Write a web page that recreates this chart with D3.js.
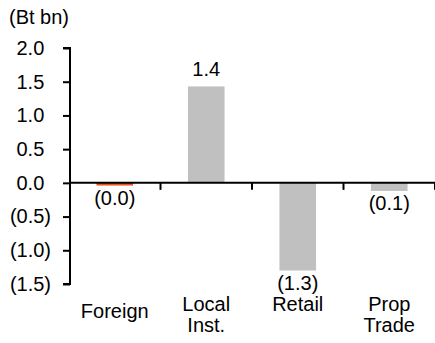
<!DOCTYPE html>
<html>
<head>
<meta charset="utf-8">
<script src="https://cdn.jsdelivr.net/npm/d3@7/dist/d3.min.js"></script>
<style>
  html, body { margin: 0; padding: 0; background: #fff; }
  svg { display: block; font-family: "Liberation Sans", Arial, sans-serif; }
</style>
</head>
<body>
<svg id="chart" width="435" height="343"></svg>
<script>
// Net buy / sell by investor type (Bt bn)
const categories = [["Foreign"], ["Local", "Inst."], ["Retail", ""], ["Prop", "Trade"]];
const values = [-0.04, 1.43, -1.30, -0.12];
const barColors = ["#e8561c", "#c0c0c0", "#c0c0c0", "#c0c0c0"];
const yTicks = [2.0, 1.5, 1.0, 0.5, 0.0, -0.5, -1.0, -1.5];
const unitLabel = "(Bt bn)";

const svg = d3.select("#chart");
const plotLeft = 70, plotRight = 435, plotTop = 48, plotBottom = 284;
const fontSize = 20;

const keys = categories.map(c => c.join(" ").trim());

const fmt = v => {
  const s = d3.format(".1f")(Math.abs(v));
  return v < 0 ? "(" + s + ")" : s;
};

const y = d3.scaleLinear().domain([-1.5, 2.0]).range([plotBottom, plotTop]);

// category slots (for ticks) and bars within them
const xSlot = d3.scaleBand().domain(keys).range([plotLeft - 1, plotRight]).padding(0);
const xBar = d3.scaleBand().domain(keys).range([plotLeft - 1, plotRight])
  .paddingInner(0.6).paddingOuter(0.3);

// bars
svg.append("g").selectAll("rect")
  .data(values)
  .join("rect")
  .attr("x", (d, i) => xBar(keys[i]))
  .attr("width", xBar.bandwidth())
  .attr("y", d => y(Math.max(0, d)))
  .attr("height", d => Math.abs(y(d) - y(0)))
  .attr("fill", (d, i) => barColors[i]);

// y axis
const yAxis = d3.axisLeft(y)
  .tickValues(yTicks)
  .tickSize(7)
  .tickPadding(12)
  .tickFormat(fmt);
const gy = svg.append("g")
  .attr("transform", `translate(${plotLeft},0)`)
  .call(yAxis);
gy.select(".domain").attr("stroke", "#000").attr("stroke-width", 2)
  .attr("d", `M-7,${y(2.0)}H0V${y(-1.5)}H-7`);
gy.selectAll(".tick line").attr("stroke", "#000").attr("stroke-width", 2);
gy.selectAll(".tick text")
  .attr("fill", "#000")
  .style("font-size", fontSize + "px")
  .style("font-family", "'Liberation Sans', Arial, sans-serif")
  // positive numbers leave room for a closing parenthesis
  .attr("dx", d => d >= 0 ? -6.7 : 0);

// x axis along zero
const xAxis = d3.axisBottom(xSlot)
  .tickSize(0)
  .tickFormat("");
const gx = svg.append("g")
  .attr("transform", `translate(0,${y(0)})`)
  .call(xAxis);
gx.select(".domain").attr("stroke", "#000").attr("stroke-width", 2)
  .attr("d", `M${plotLeft},0H${plotRight}`);
gx.selectAll(".tick").remove();
gx.selectAll("line.sep")
  .data(keys)
  .join("line")
  .attr("class", "sep")
  .attr("x1", d => xSlot(d) + xSlot.bandwidth())
  .attr("x2", d => xSlot(d) + xSlot.bandwidth())
  .attr("y1", 0).attr("y2", 7)
  .attr("stroke", "#000").attr("stroke-width", 2);

// category labels under the plot
const catG = svg.append("g")
  .style("font-size", fontSize + "px")
  .attr("fill", "#000")
  .attr("text-anchor", "middle");
categories.forEach((lines, i) => {
  const cx = xSlot(keys[i]) + xSlot.bandwidth() / 2;
  const lineH = 21;
  const firstBase = lines.length === 1 ? 318 : 311;
  const t = catG.append("text").attr("x", cx);
  lines.forEach((ln, j) => {
    t.append("tspan").attr("x", cx).attr("y", firstBase + j * lineH).text(ln);
  });
});

// value labels
svg.append("g")
  .style("font-size", fontSize + "px")
  .attr("fill", "#000")
  .attr("text-anchor", "middle")
  .selectAll("text")
  .data(values)
  .join("text")
  .attr("x", (d, i) => xBar(keys[i]) + xBar.bandwidth() / 2)
  .attr("y", d => d >= 0 ? y(d) - 10 : y(d) + 19)
  .text(fmt);

// unit label
svg.append("text")
  .attr("x", 9).attr("y", 24)
  .style("font-size", fontSize + "px")
  .attr("fill", "#000")
  .text(unitLabel);
</script>
</body>
</html>
